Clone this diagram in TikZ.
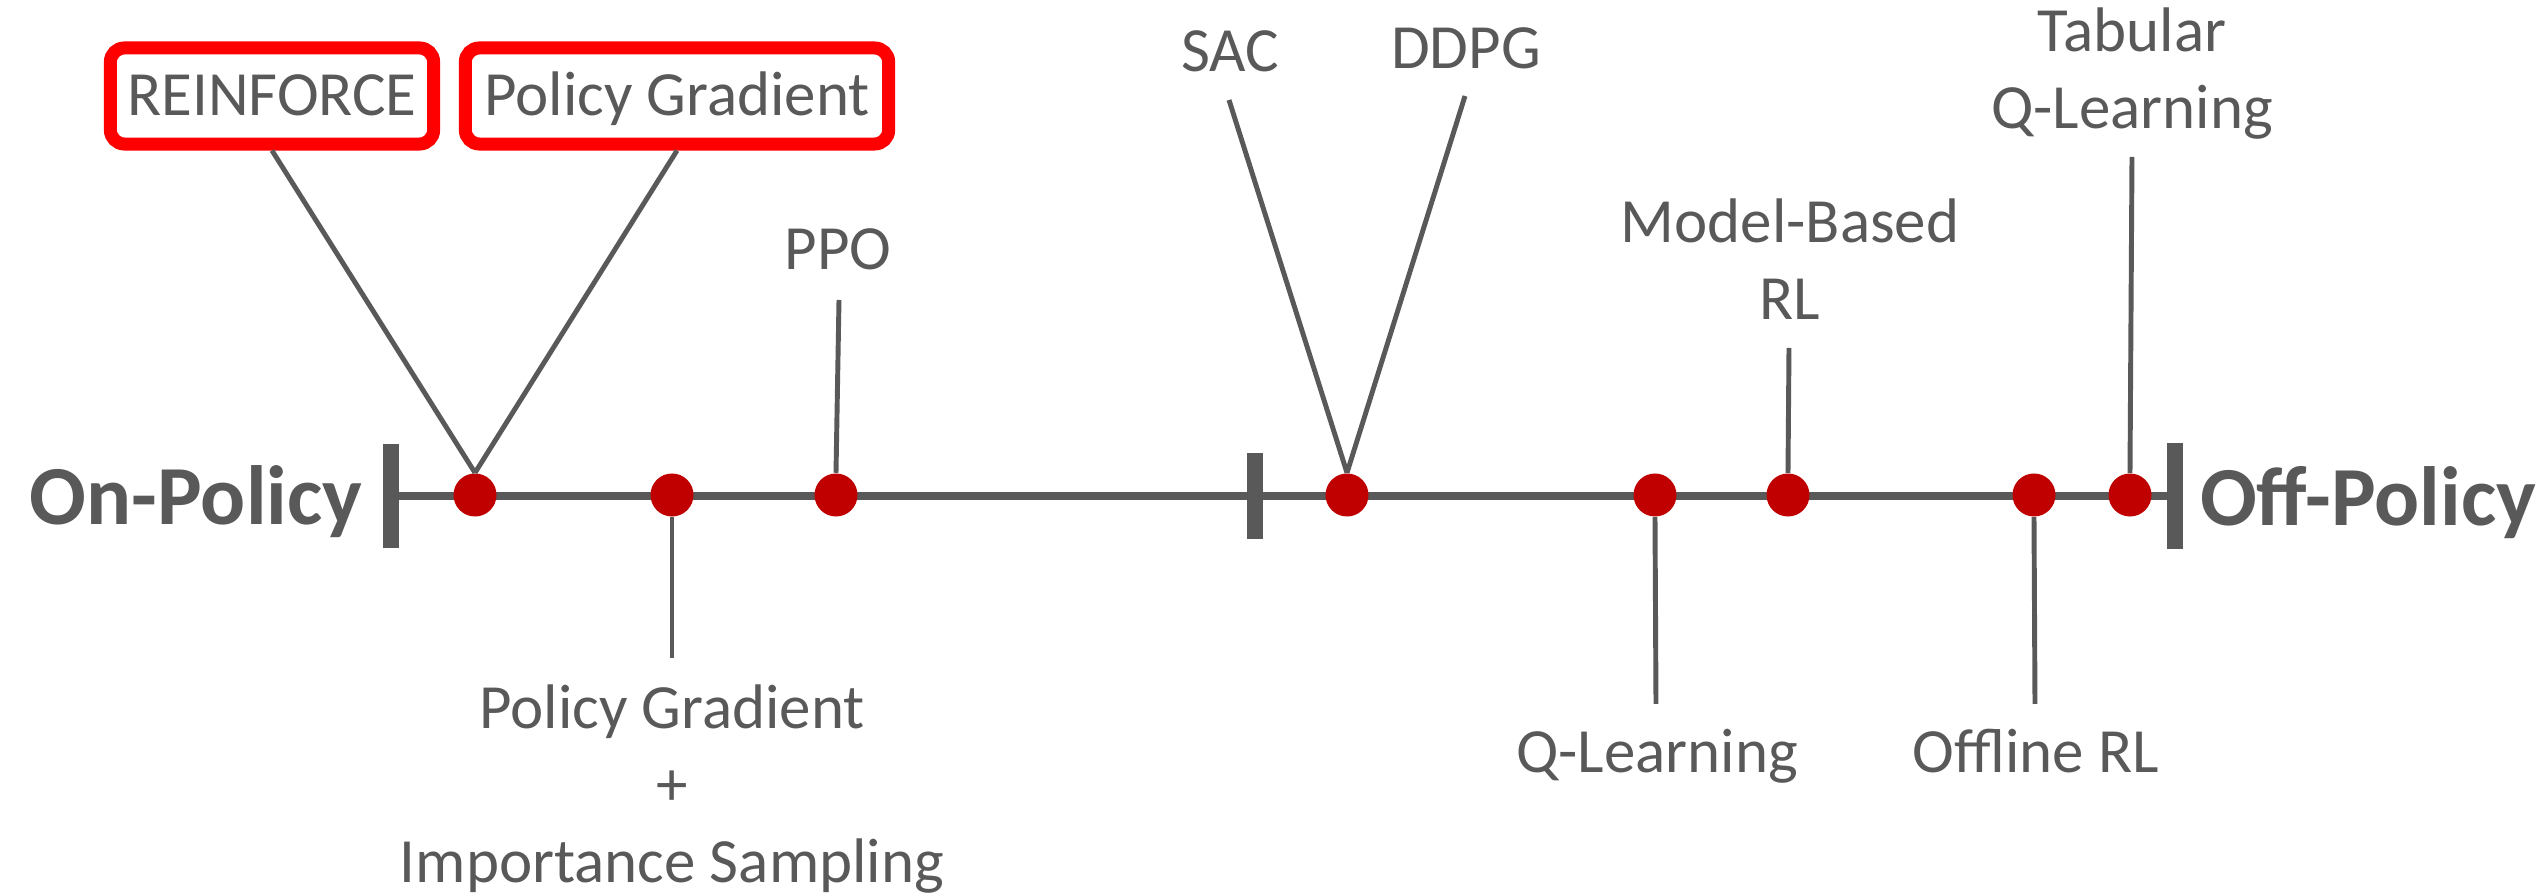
\documentclass[tikz,border=0pt]{standalone}
\usepackage{fontspec}
\setmainfont{Carlito}
\definecolor{txtgray}{HTML}{595959}
\definecolor{dotred}{HTML}{C00000}
\definecolor{boxred}{HTML}{FF0000}
\begin{document}
\begin{tikzpicture}[x=0.01cm,y=-0.01cm,
  lbl/.style={text=txtgray,font=\fontsize{17.9}{21.9}\selectfont,inner sep=0pt,align=center,anchor=base},
  endlbl/.style={text=txtgray,font=\fontsize{23.9}{28}\selectfont\bfseries,inner sep=0pt,anchor=base},
  redbox/.style={draw=boxred,line width=3.7pt,rounded corners=0.14cm,minimum height=0.96cm,inner sep=0pt,
    text=txtgray,font=\fontsize{17.9}{21.9}\selectfont,text height=0.40cm,text depth=0pt},
  dot/.style={circle,fill=dotred,minimum size=0.43cm,inner sep=0pt},
  tickbar/.style={fill=txtgray,minimum width=0.16cm,inner sep=0pt},
  axis/.style={draw=txtgray,line width=2.28pt},
  conn/.style={draw=txtgray,line width=1.4pt}]
\useasboundingbox (0,0) rectangle (2544,895);

% tick bars
\node[tickbar,minimum height=1.04cm] (lb) at (391,496) {};
\node[tickbar,minimum height=0.86cm] (mb) at (1255,496) {};
\node[tickbar,minimum height=1.05cm] (rb) at (2175,496) {};
\draw[axis] (lb.center) -- (rb.center);

% boxes
\node[redbox,minimum width=3.23cm] (reinf) at (272,96) {REINFORCE};
\node[redbox,minimum width=4.23cm] (pgbox) at (677,96) {Policy Gradient};

% free connector ends
\coordinate (cppo) at (839,300);
\coordinate (csac) at (1229,100);
\coordinate (cddpg) at (1465,96);
\coordinate (cmb) at (1789,348);
\coordinate (ctab) at (2132,157);
\coordinate (cpgis) at (672,658);
\coordinate (cql) at (1656,704);
\coordinate (coff) at (2035,704);

% dots
\node[dot] (d1) at (475,495) {};
\node[dot] (d2) at (672,495) {};
\node[dot] (d3) at (836,495) {};
\node[dot] (d4) at (1347,495) {};
\node[dot] (d5) at (1655,495) {};
\node[dot] (d6) at (1788,495) {};
\node[dot] (d7) at (2034,495) {};
\node[dot] (d8) at (2130,495) {};

% connectors
\draw[conn] (reinf.south) -- (d1.north);
\draw[conn] (pgbox.south) -- (d1.north);
\draw[conn] (cppo) -- (d3.north);
\draw[conn] (csac) -- (d4.north);
\draw[conn] (cddpg) -- (d4.north);
\draw[conn] (cmb) -- (d6.north);
\draw[conn] (ctab) -- (d8.north);
\draw[conn] (d2.south) -- (cpgis);
\draw[conn] (d5.south) -- (cql);
\draw[conn] (d7.south) -- (coff);

% labels (base anchor = baseline of the last line)
\node[lbl] (ppo) at (838,270) {PPO};
\node[lbl] (sac) at (1230,72) {SAC};
\node[lbl] (ddpg) at (1466,69) {DDPG};
\node[lbl] (mbrl) at (1790,320) {Model-Based\\RL};
\node[lbl] (tab) at (2132,129) {Tabular\\Q-Learning};
\node[lbl] (pgis) at (672,883) {Policy Gradient\\+\\Importance Sampling};
\node[lbl] (ql) at (1657,773) {Q-Learning};
\node[lbl] (off) at (2036,773) {Offline RL};
\node[endlbl] (on) at (196,525) {On-Policy};
\node[endlbl] (offp) at (2368,526) {Off-Policy};
\end{tikzpicture}
\end{document}
